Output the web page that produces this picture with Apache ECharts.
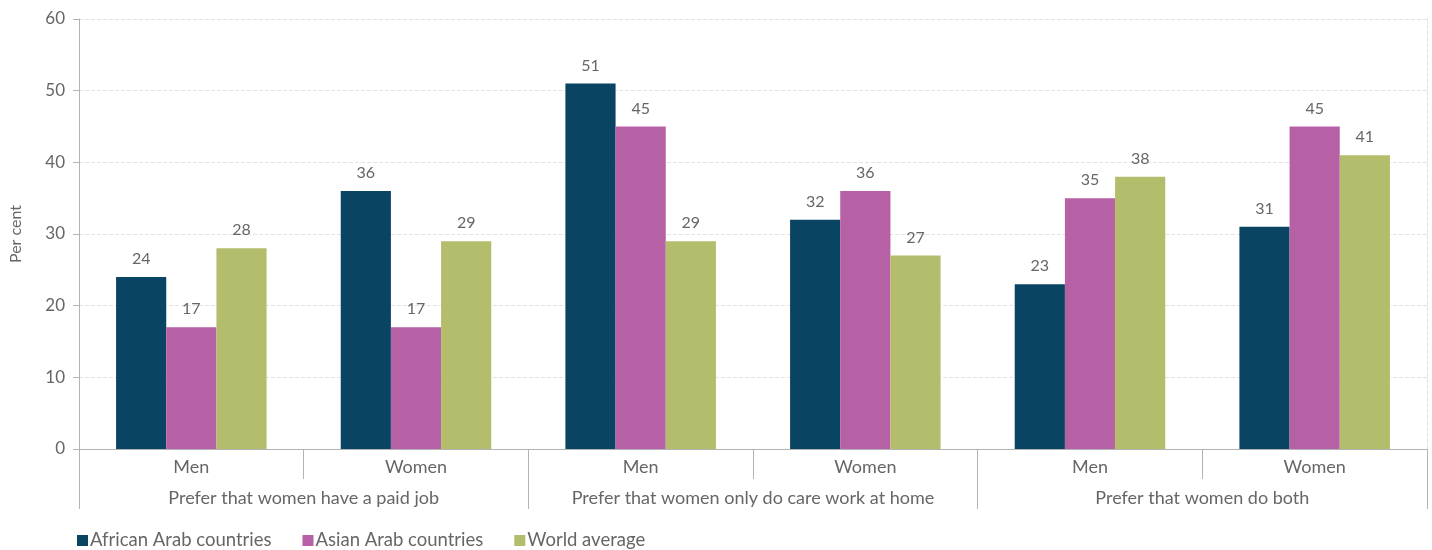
<!DOCTYPE html>
<html>
<head>
<meta charset="utf-8">
<script src="https://cdn.jsdelivr.net/npm/echarts@6/dist/echarts.min.js"></script>
<style>html,body{margin:0;padding:0;background:#fff}#c{width:1432px;height:550px}</style>
</head>
<body>
<div id="c"></div>
<script>
const subCategories = ['Men','Women','Men','Women','Men','Women'];
const groups = ['Prefer that women have a paid job','Prefer that women only do care work at home','Prefer that women do both'];
const african = [24,36,51,32,23,31];
const asian = [17,17,45,36,35,45];
const world = [28,29,29,27,38,41];
const yTicks = [0,10,20,30,40,50,60];

const font = 'Lato, "Open Sans", sans-serif';
const txt = '#666';
const axisCol = '#b3b3b3';
const chart = echarts.init(document.getElementById('c'));
const lbl = {show:true, position:'top', distance:10, color:txt, fontSize:16, fontFamily:font};
chart.setOption({
  animation:false,
  grid:{left:79, right:5, top:19, bottom:101, outerBoundsMode:'none', containLabel:false},
  legend:{
    left:72, top:526, itemWidth:11, itemHeight:11, itemGap:31, icon:'rect',
    textStyle:{color:txt, fontSize:18.5, fontFamily:font, padding:[0,0,0,-3]}
  },
  xAxis:[
    {type:'category', data:subCategories, position:'bottom',
     axisLine:{lineStyle:{color:axisCol}}, axisTick:{show:true, interval:0, length:30, lineStyle:{color:axisCol}},
     axisLabel:{interval:0, color:txt, fontSize:18, fontFamily:font, margin:9}},
    {type:'category', data:groups, position:'bottom', offset:0,
     axisLine:{show:false}, axisTick:{show:true, interval:0, length:60, lineStyle:{color:axisCol}},
     axisLabel:{interval:0, hideOverlap:false, color:txt, fontSize:18, fontFamily:font, margin:40}}
  ],
  yAxis:[
    {type:'value', min:0, max:60, interval:10, name:'Per cent', nameLocation:'middle', nameGap:55,
     nameTextStyle:{color:txt, fontSize:16, fontFamily:font},
     axisLine:{show:true, lineStyle:{color:axisCol}}, axisTick:{show:true, length:6, lineStyle:{color:axisCol}},
     axisLabel:{color:txt, fontSize:17, fontFamily:font, margin:14, formatter:v=>yTicks.includes(v)?String(v):''},
     splitLine:{lineStyle:{color:'#e3e3e3', type:'dashed'}}},
    {type:'value', min:0, max:60, interval:10, position:'right',
     axisLine:{show:true, lineStyle:{color:'#e3e3e3', type:'dashed'}}, axisTick:{show:false}, axisLabel:{show:false}, splitLine:{show:false}}
  ],
  series:[
    {name:'African Arab countries', type:'bar', data:african, barGap:'0%', barCategoryGap:'33%', itemStyle:{color:'#0a4463'}, label:lbl},
    {name:'Asian Arab countries', type:'bar', data:asian, itemStyle:{color:'#b660a5'}, label:lbl},
    {name:'World average', type:'bar', data:world, itemStyle:{color:'#b3bd6b'}, label:lbl}
  ]
});
</script>
</body>
</html>
